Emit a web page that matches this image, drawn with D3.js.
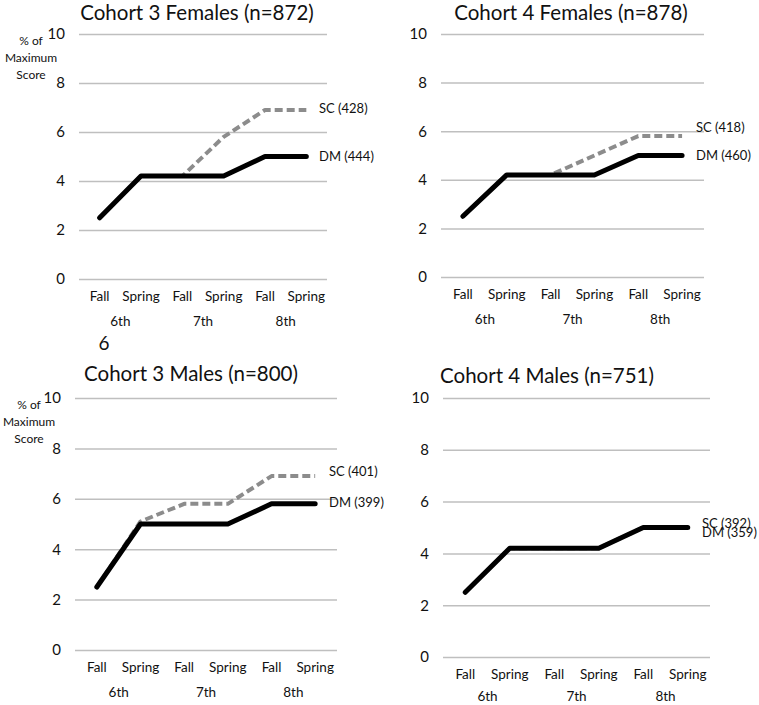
<!DOCTYPE html>
<html>
<head>
<meta charset="utf-8">
<script src="https://cdnjs.cloudflare.com/ajax/libs/d3/7.8.5/d3.min.js"></script>
<style>
  body { margin: 0; background: #fff; }
  svg text { font-family: Lato, "Open Sans", sans-serif; fill: #111; }
</style>
</head>
<body>
<div class="chart"></div>
<script>
// Data
var terms = ["Fall", "Spring", "Fall", "Spring", "Fall", "Spring"];
var grades = ["6th", "7th", "8th"];
var yTicks = [0, 2, 4, 6, 8, 10];

var titles = ["Cohort 3 Females (n=872)", "Cohort 4 Females (n=878)",
              "Cohort 3 Males (n=800)", "Cohort 4 Males (n=751)"];
var scLabels = ["SC (428)", "SC (418)", "SC (401)", "SC (392)"];
var dmLabels = ["DM (444)", "DM (460)", "DM (399)", "DM (359)"];

var c3FemalesSC = [2.5, 4.2, 4.2, 5.8, 6.9, 6.9];
var c3FemalesDM = [2.5, 4.2, 4.2, 4.2, 5.0, 5.0];
var c4FemalesSC = [2.5, 4.2, 4.2, 5.0, 5.8, 5.8];
var c4FemalesDM = [2.5, 4.2, 4.2, 4.2, 5.0, 5.0];
var c3MalesSC = [2.5, 5.1, 5.8, 5.8, 6.9, 6.9];
var c3MalesDM = [2.5, 5.0, 5.0, 5.0, 5.8, 5.8];
var c4MalesSC = [2.5, 4.2, 4.2, 4.2, 5.0, 5.0];
var c4MalesDM = [2.5, 4.2, 4.2, 4.2, 5.0, 5.0];

var scSeries = [c3FemalesSC, c4FemalesSC, c3MalesSC, c4MalesSC];
var dmSeries = [c3FemalesDM, c4FemalesDM, c3MalesDM, c4MalesDM];

// Layout of each panel (plot box + label placement)
var panels = [
  {x0: 79,  x1: 327, yTop: 34,  yBot: 279, titleX: 197, titleY: 20,  capX: 31,   gradePad: 37, scDy: -2, dmDy: 0},
  {x0: 441, x1: 704, yTop: 34,  yBot: 277, titleX: 571, titleY: 20,  capX: null, gradePad: 37, scDy: -9, dmDy: 0},
  {x0: 75,  x1: 337, yTop: 398, yBot: 650, titleX: 191, titleY: 381, capX: 29,   gradePad: 37, scDy: -5, dmDy: -1},
  {x0: 443, x1: 710, yTop: 398, yBot: 657, titleX: 547, titleY: 383, capX: null, gradePad: 34, scDy: -4, dmDy: 5}
];

var svgWidth = 759;
var svgHeight = 705;

var svg = d3.select(".chart")
  .append("svg")
  .attr("width", svgWidth)
  .attr("height", svgHeight);

panels.forEach(function(p, i) {
  var g = svg.append("g");

  var xScale = d3.scaleBand()
    .domain(d3.range(terms.length))
    .range([p.x0, p.x1]);

  var gradeScale = d3.scaleBand()
    .domain(grades)
    .range([p.x0, p.x1]);

  var yScale = d3.scaleLinear()
    .domain([0, 10])
    .range([p.yBot, p.yTop]);

  // gridlines + y tick labels
  var yAxis = g.append("g")
    .attr("transform", `translate(${p.x0}, 0)`)
    .call(d3.axisLeft(yScale)
      .tickValues(yTicks)
      .tickSize(-(p.x1 - p.x0))
      .tickPadding(14));
  yAxis.select(".domain").remove();
  yAxis.selectAll(".tick line")
    .attr("stroke", "#bfbfbf")
    .attr("stroke-width", 1.5);
  yAxis.selectAll(".tick text")
    .style("font-size", "15px");

  // term labels
  var xAxis = g.append("g")
    .attr("transform", `translate(0, ${p.yBot})`)
    .call(d3.axisBottom(xScale)
      .tickSize(0)
      .tickPadding(12)
      .tickFormat(function(d) { return terms[d]; }));
  xAxis.select(".domain").remove();
  xAxis.selectAll(".tick text")
    .style("font-size", "13.5px");

  // grade labels
  var gAxis = g.append("g")
    .attr("transform", `translate(0, ${p.yBot})`)
    .call(d3.axisBottom(gradeScale)
      .tickSize(0)
      .tickPadding(p.gradePad));
  gAxis.select(".domain").remove();
  gAxis.selectAll(".tick text")
    .style("font-size", "13.5px");

  // title
  g.append("text")
    .attr("x", p.titleX)
    .attr("y", p.titleY)
    .attr("text-anchor", "middle")
    .style("font-size", "20.5px")
    .text(titles[i]);

  // y axis caption
  if (p.capX !== null) {
    var cap = g.append("text")
      .attr("text-anchor", "middle")
      .style("font-size", "12px");
    ["% of", "Maximum", "Score"].forEach(function(t, k) {
      cap.append("tspan")
        .attr("x", p.capX)
        .attr("y", p.yTop + 11 + k * 17)
        .text(t);
    });
  }

  var line = d3.line()
    .x(function(d, k) { return xScale(k) + xScale.bandwidth() / 2; })
    .y(function(d) { return yScale(d); });

  g.append("path")
    .datum(scSeries[i])
    .attr("d", line)
    .attr("fill", "none")
    .attr("stroke", "#8c8c8c")
    .attr("stroke-width", 4)
    .attr("stroke-dasharray", "8,4")
    .attr("stroke-linejoin", "round");

  g.append("path")
    .datum(dmSeries[i])
    .attr("d", line)
    .attr("fill", "none")
    .attr("stroke", "#000")
    .attr("stroke-width", 5)
    .attr("stroke-linejoin", "round")
    .attr("stroke-linecap", "round");

  var last = terms.length - 1;
  g.append("text")
    .attr("x", p.x1 - 8)
    .attr("y", yScale(scSeries[i][last]) + p.scDy)
    .attr("dy", "0.35em")
    .style("font-size", "13px")
    .text(scLabels[i]);

  g.append("text")
    .attr("x", p.x1 - 8)
    .attr("y", yScale(dmSeries[i][last]) + p.dmDy)
    .attr("dy", "0.35em")
    .style("font-size", "13px")
    .text(dmLabels[i]);
});

// stray figure mark between the panels
svg.append("text")
  .attr("x", 104)
  .attr("y", 350)
  .attr("text-anchor", "middle")
  .style("font-size", "19px")
  .text("6");
</script>
</body>
</html>
